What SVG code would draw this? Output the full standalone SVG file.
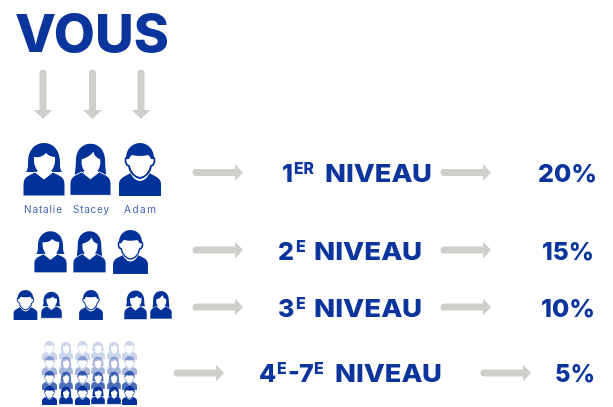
<svg xmlns="http://www.w3.org/2000/svg" width="613" height="407" viewBox="0 0 613 407">
<style>
text{font-family:"Inter","Liberation Sans",sans-serif;fill:#0b359c;font-weight:800}
.lv{font-size:25px}
.sup{font-size:16px}
.pc{font-size:25px}
.nm{font-size:10px;font-weight:400;fill:#3f62b4}
.b{fill:#00309a}
.w{fill:#fff}
.bd{fill:#00309a;stroke:#fff;stroke-width:1}
.conn{fill:#cfcfcc}
</style>
<defs>
<filter id="soft" x="-5%" y="-5%" width="110%" height="110%"><feGaussianBlur stdDeviation="0.35"/></filter>
<filter id="softer" x="-5%" y="-5%" width="110%" height="110%"><feGaussianBlur stdDeviation="0.3"/></filter>
<path id="r" d="M3 -3.500H42V-8.500L50 0L42 8.500V3.500H3A3.500 3.500 0 0 1 3 -3.500Z"/>
<path id="d" d="M-3.500 3A3.500 3.500 0 0 1 3.500 3V40H9.500L0 49L-9.500 40H-3.500Z"/>
<path id="bd" class="bd" d="M0 53V41Q0 35 6 32L12 29L21 36L30 29L36 32Q42 35 42 41V53Z"/>
<symbol id="fs" viewBox="0 0 42 53">
<path class="b" d="M3 29C5 26 5 24 5 19C5 7 12 0 21 0S37 7 37 19C37 24 37 26 39 29Z"/>
<path class="w" d="M11 14Q19 15 23 10Q27 14 32 14C33 25 27 31 21.500 31S10 25 11 14Z"/>
<path class="w" d="M14 28H29V38H14Z"/>
<use href="#bd"/>
</symbol>
<symbol id="fl" viewBox="0 0 42 53">
<path class="b" d="M5 34C5 28 6 26 6 18C6 7 12 0 21 0S36 7 36 18C36 26 37 28 37 34Z"/>
<path class="w" d="M12 16Q20 14 24 8Q25 14 31 16C32 26 27 31 21.500 31S11 26 12 16Z"/>
<path class="w" d="M14 28H29V38H14Z"/>
<use href="#bd"/>
</symbol>
<symbol id="m" viewBox="0 0 42 53">
<path class="b" d="M0 53V41Q0 36 6 33L12 30Q21 40 30 30L36 33Q42 36 42 41V53Z"/>
<path class="w" d="M9 14C5 14 6 22 10 23C11 31 17 37 21 37S31 31 32 23C36 22 37 14 33 14Z" stroke="#fff" stroke-width="2"/>
<path d="M9 14C5 14 6 22 10 23C11 30 17 35 21 35S31 30 32 23C36 22 37 14 33 14" fill="none" stroke="#00309a" stroke-width="1.800"/>
<path class="b" d="M7 16C7 5 14 0 21 0S35 5 35 16L32 16Q31 13 29 12Q21 14 13 12Q11 13 10 16Z"/>
</symbol>
</defs>

<text id="title" x="15" y="52" font-size="52" textLength="154" lengthAdjust="spacingAndGlyphs">VOUS</text>

<g class="conn" id="connectors" filter="url(#softer)">
<use href="#d" x="43" y="70"/><use href="#d" x="92.500" y="70"/><use href="#d" x="141" y="70"/>
<use href="#r" x="193" y="172.500"/><use href="#r" x="441" y="172.500"/>
<use href="#r" x="193" y="250"/><use href="#r" x="441" y="250"/>
<use href="#r" x="193" y="307"/><use href="#r" x="441" y="307"/>
<use href="#r" x="174" y="373"/><use href="#r" x="481" y="373"/>
</g>

<g id="niveau1" filter="url(#soft)">
<use href="#fs" x="23" y="143" width="42" height="53" preserveAspectRatio="none"/>
<use href="#fl" x="70" y="143" width="41" height="53" preserveAspectRatio="none"/>
<use href="#m" x="117" y="143" width="46" height="53" preserveAspectRatio="none"/>
</g>
<g id="noms">
<text class="nm" x="24" y="213" textLength="38">Natalie</text>
<text class="nm" x="73" y="213" textLength="36">Stacey</text>
<text class="nm" x="124" y="213" textLength="32">Adam</text>
</g>
<g id="niveau2" filter="url(#soft)">
<use href="#fs" x="34" y="230" width="33" height="44" preserveAspectRatio="none"/>
<use href="#fl" x="73" y="230" width="33" height="44" preserveAspectRatio="none"/>
<use href="#m" x="112" y="230" width="37" height="44" preserveAspectRatio="none"/>
</g>
<g id="niveau3" filter="url(#soft)">
<use href="#m" x="13" y="290" width="25" height="30" preserveAspectRatio="none"/>
<use href="#fs" x="41" y="290" width="21" height="30" preserveAspectRatio="none"/>
<use href="#m" x="79" y="290" width="24" height="30" preserveAspectRatio="none"/>
<use href="#fs" x="124" y="290" width="23" height="30" preserveAspectRatio="none"/>
<use href="#fl" x="150" y="290" width="22" height="30" preserveAspectRatio="none"/>
</g>
<g id="niveau4" filter="url(#soft)">
<g opacity="0.2">
<use href="#m" x="42" y="340" width="15" height="21" preserveAspectRatio="none"/><use href="#fl" x="59" y="340" width="14" height="21" preserveAspectRatio="none"/><use href="#m" x="75" y="340" width="15" height="21" preserveAspectRatio="none"/><use href="#fs" x="91" y="340" width="14" height="21" preserveAspectRatio="none"/><use href="#fl" x="107" y="340" width="14" height="21" preserveAspectRatio="none"/><use href="#m" x="122" y="340" width="15" height="21" preserveAspectRatio="none"/>
</g>
<g opacity="0.35">
<use href="#m" x="42" y="355" width="15" height="21" preserveAspectRatio="none"/><use href="#fl" x="59" y="355" width="14" height="21" preserveAspectRatio="none"/><use href="#m" x="75" y="355" width="15" height="21" preserveAspectRatio="none"/><use href="#fs" x="91" y="355" width="14" height="21" preserveAspectRatio="none"/><use href="#fl" x="107" y="355" width="14" height="21" preserveAspectRatio="none"/><use href="#m" x="122" y="355" width="15" height="21" preserveAspectRatio="none"/>
</g>
<g opacity="0.7">
<use href="#m" x="42" y="370" width="15" height="21" preserveAspectRatio="none"/><use href="#fl" x="59" y="370" width="14" height="21" preserveAspectRatio="none"/><use href="#m" x="75" y="370" width="15" height="21" preserveAspectRatio="none"/><use href="#fs" x="91" y="370" width="14" height="21" preserveAspectRatio="none"/><use href="#fl" x="107" y="370" width="14" height="21" preserveAspectRatio="none"/><use href="#m" x="122" y="370" width="15" height="21" preserveAspectRatio="none"/>
</g>
<use href="#m" x="42" y="385" width="15" height="21" preserveAspectRatio="none"/><use href="#fl" x="59" y="385" width="14" height="21" preserveAspectRatio="none"/><use href="#m" x="75" y="385" width="15" height="21" preserveAspectRatio="none"/><use href="#fs" x="91" y="385" width="14" height="21" preserveAspectRatio="none"/><use href="#fl" x="107" y="385" width="14" height="21" preserveAspectRatio="none"/><use href="#m" x="122" y="385" width="15" height="21" preserveAspectRatio="none"/>
</g>

<g id="labels">
<text class="lv" x="282" y="182">1</text><text class="sup" x="294" y="174" textLength="20" lengthAdjust="spacingAndGlyphs">ER</text><text class="lv" x="325" y="182" textLength="107" lengthAdjust="spacingAndGlyphs">NIVEAU</text>
<text class="lv" x="278" y="259.500">2</text><text class="sup" x="296" y="252">E</text><text class="lv" x="314" y="259.500" textLength="108" lengthAdjust="spacingAndGlyphs">NIVEAU</text>
<text class="lv" x="278" y="316.500">3</text><text class="sup" x="296" y="309">E</text><text class="lv" x="314" y="316.500" textLength="108" lengthAdjust="spacingAndGlyphs">NIVEAU</text>
<text class="lv" x="259" y="382">4</text><text class="sup" x="277" y="374">E</text><text class="lv" x="288" y="382">-7</text><text class="sup" x="314" y="374">E</text><text class="lv" x="335" y="382" textLength="107" lengthAdjust="spacingAndGlyphs">NIVEAU</text>
</g>
<g id="taux">
<text class="pc" x="538" y="182" textLength="59" lengthAdjust="spacingAndGlyphs">20%</text>
<text class="pc" x="542" y="260" textLength="52" lengthAdjust="spacingAndGlyphs">15%</text>
<text class="pc" x="541" y="316.500" textLength="54" lengthAdjust="spacingAndGlyphs">10%</text>
<text class="pc" x="555" y="382" textLength="40" lengthAdjust="spacingAndGlyphs">5%</text>
</g>
</svg>
